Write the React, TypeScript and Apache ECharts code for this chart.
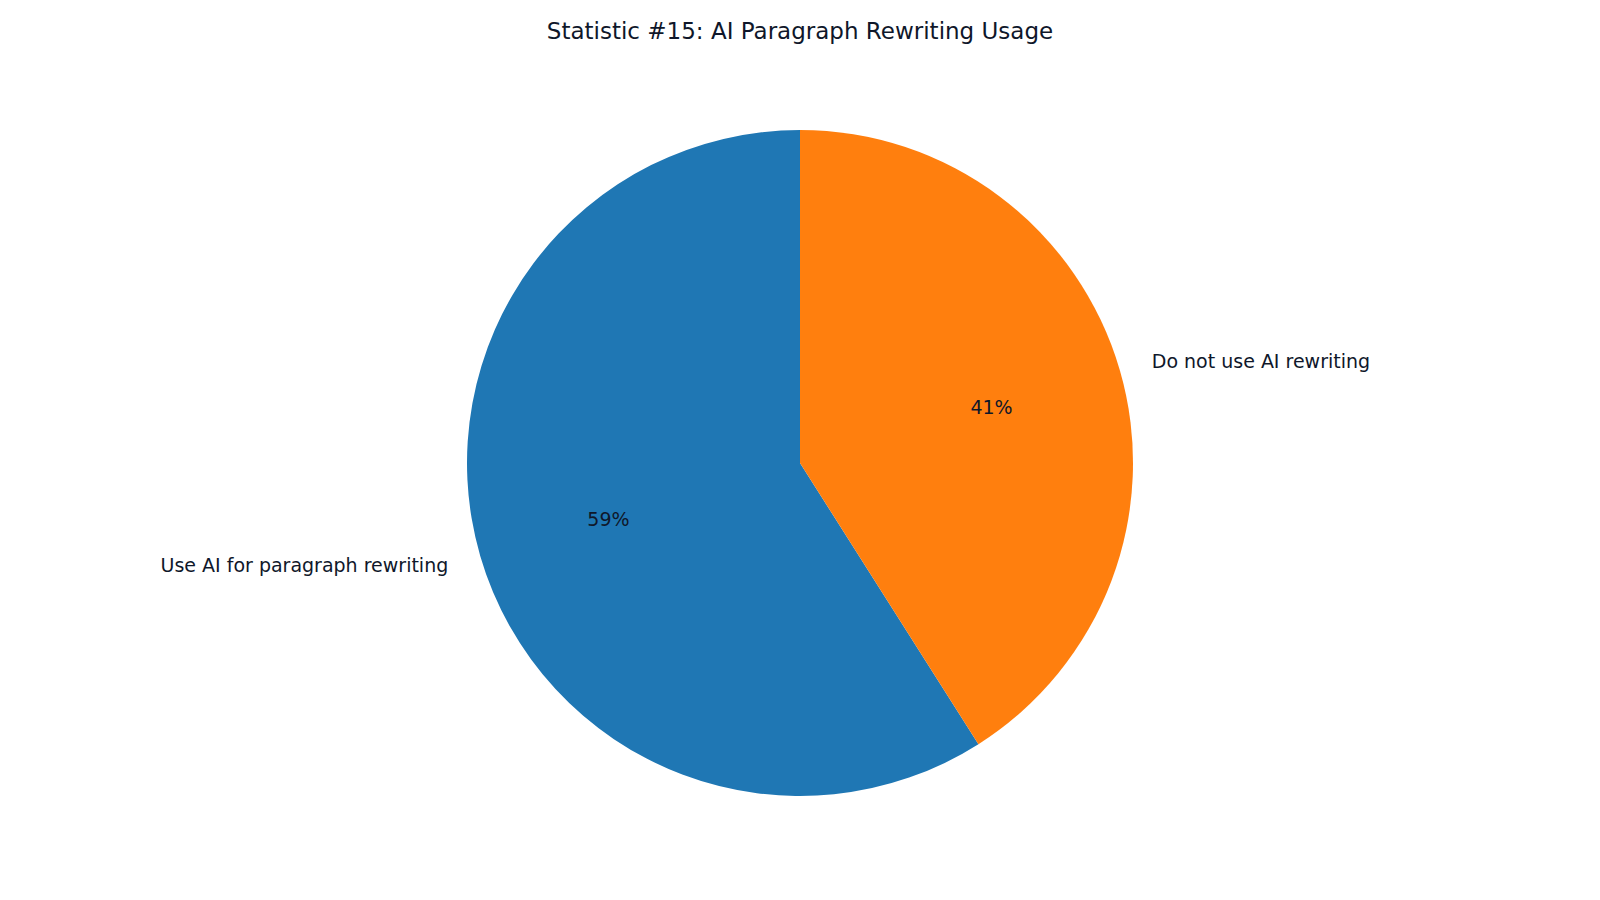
import React, { useEffect, useRef } from 'react';
import * as echarts from 'echarts';

const categories = ['Use AI for paragraph rewriting', 'Do not use AI rewriting'];
const values = [59, 41];
const colors = ['#1f77b4', '#ff7f0e'];

const TEXT = '#0f172a';
const FONT = 'DejaVu Sans';

const App: React.FC = () => {
  const chartRef = useRef<HTMLDivElement>(null);

  useEffect(() => {
    document.body.style.margin = '0';
    const chart = echarts.init(chartRef.current!, undefined, { renderer: 'svg' });
    const R = 333;
    const C = [800, 463];

    chart.setOption({
      animation: false,
      backgroundColor: '#ffffff',
      title: {
        text: 'Statistic #15: AI Paragraph Rewriting Usage',
        left: 'center',
        top: 14,
        textStyle: { fontFamily: FONT, fontSize: 23, fontWeight: 'normal', color: TEXT },
      },
      series: [
        {
          type: 'pie',
          center: C,
          radius: [0, R],
          startAngle: 90,
          clockwise: false,
          avoidLabelOverlap: false,
          silent: true,
          data: categories.map((name, i) => ({
            name,
            value: values[i],
            itemStyle: { color: colors[i] },
          })),
          label: {
            show: true,
            position: 'outside',
            formatter: '{b}',
            fontFamily: FONT,
            fontSize: 19,
            color: TEXT,
            distanceToLabelLine: 0,
          },
          labelLine: { show: false, length: R * 0.1, length2: 0 },
        },
        {
          // transparent ring used only to place the percentages near 0.6 * radius
          type: 'pie',
          center: C,
          radius: [R * 0.18, R],
          startAngle: 90,
          clockwise: false,
          avoidLabelOverlap: false,
          silent: true,
          data: categories.map((name, i) => ({
            name,
            value: values[i],
            itemStyle: { color: 'transparent' },
          })),
          label: {
            show: true,
            position: 'inside',
            formatter: (p: any) => `${Math.round(p.percent)}%`,
            fontFamily: FONT,
            fontSize: 19,
            color: TEXT,
          },
          labelLine: { show: false },
        },
      ],
    });

    return () => {
      chart.dispose();
    };
  }, []);

  return <div ref={chartRef} style={{ width: '1600px', height: '900px' }} />;
};

export default App;
